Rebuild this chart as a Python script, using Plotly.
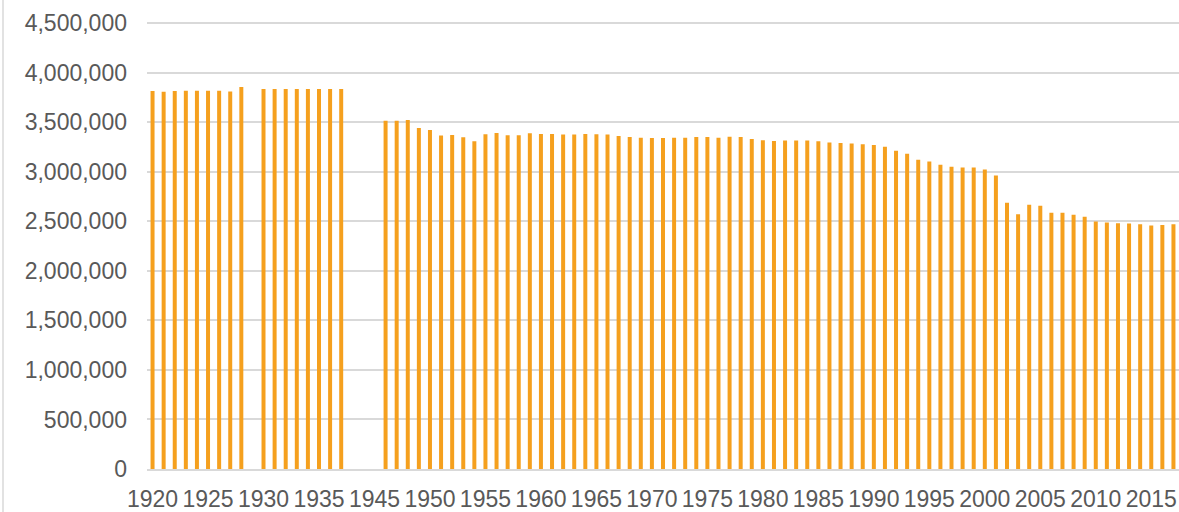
import plotly.graph_objects as go

# years on the category axis (1929, 1938, 1939, 1945 have no value)
years = [str(y) for y in range(1920, 1940)] + [str(y) for y in range(1945, 2018)]

pop_1920s_30s = [3813000, 3806000, 3813000, 3816000, 3816000, 3816000, 3816000, 3809000, 3853000, None,
                 3833000, 3835000, 3835000, 3834000, 3834000, 3835000, 3834000, 3835000, None, None]
pop_1945_1966 = [None, 3514000, 3514000, 3521000, 3441000, 3421000, 3364000, 3370000, 3347000, 3306000,
                 3377000, 3391000, 3367000, 3367000, 3387000, 3381000, 3381000, 3374000, 3374000, 3381000,
                 3377000, 3374000]
pop_1967_1987 = [3360000, 3350000, 3343000, 3340000, 3340000, 3343000, 3343000, 3350000, 3350000, 3343000,
                 3353000, 3350000, 3330000, 3316000, 3310000, 3313000, 3313000, 3313000, 3306000, 3293000,
                 3290000]
pop_1988_2001 = [3283000, 3276000, 3270000, 3250000, 3210000, 3180000, 3119000, 3102000, 3069000, 3049000,
                 3042000, 3042000, 3022000, 2961000]
pop_2002_2017 = [2687000, 2569000, 2667000, 2657000, 2586000, 2586000, 2566000, 2546000, 2496000, 2486000,
                 2479000, 2476000, 2469000, 2456000, 2462000, 2469000]

values = pop_1920s_30s + pop_1945_1966 + pop_1967_1987 + pop_1988_2001 + pop_2002_2017

x_ticks = years[::5]
y_ticks = list(range(0, 4500001, 500000))

fig = go.Figure()
fig.add_trace(go.Bar(x=years, y=values, marker=dict(color="#F5A01E", line=dict(width=0))))

fig.update_layout(
    width=1179,
    height=512,
    margin=dict(l=147, r=0, t=19, b=41),
    plot_bgcolor="white",
    paper_bgcolor="white",
    bargap=0.64,
    showlegend=False,
    font=dict(family="Liberation Sans, Arial", size=23, color="#595959"),
    shapes=[dict(type="line", xref="paper", yref="paper",
                 x0=-144 / 1032, x1=-144 / 1032, y0=-1, y1=2,
                 line=dict(color="#D9D9D9", width=1.5))],
)
fig.update_xaxes(
    type="category",
    categoryorder="array",
    categoryarray=years,
    tickvals=x_ticks,
    ticktext=x_ticks,
    showgrid=False,
    showline=True,
    linecolor="#D9D9D9",
    linewidth=1.5,
    ticks="",
    tickangle=0,
    ticklabelstandoff=9,
)
fig.update_yaxes(
    # some headroom so the 4,500,000 gridline is not clipped away at the edge
    range=[0, 4540000],
    tickvals=y_ticks,
    tickformat=",d",
    showgrid=True,
    gridcolor="#D9D9D9",
    gridwidth=1.5,
    zeroline=False,
    ticks="",
    ticklabelstandoff=19,
)

# drop the browser's default body margin so the chart sits at the page corner
fig.write_html("out.html", config={"displayModeBar": False},
               post_script="document.body.style.margin='0';")
